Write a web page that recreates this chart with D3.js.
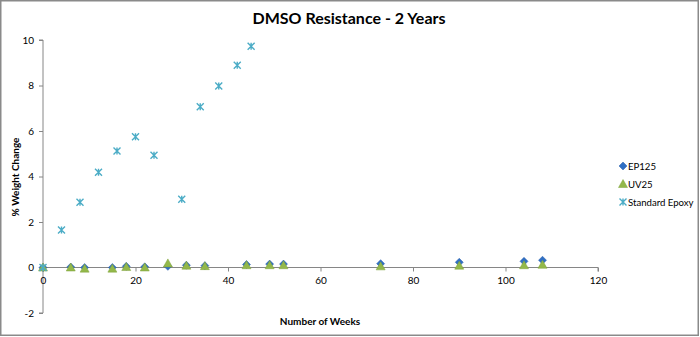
<!DOCTYPE html>
<html>
<head>
<meta charset="utf-8">
<script src="https://cdn.jsdelivr.net/npm/d3@7"></script>
<style>
  html, body { margin: 0; padding: 0; background: #fff; }
  svg { display: block; font-family: Lato, "Open Sans", sans-serif; }
</style>
</head>
<body>
<svg id="chart" width="700" height="337"></svg>
<script>
// ---- Data ----
const title = "DMSO Resistance - 2 Years";
const xLabel = "Number of Weeks";
const yLabel = "% Weight Change";
const xTicks = [0, 20, 40, 60, 80, 100, 120];
const yTicks = [-2, 0, 2, 4, 6, 8, 10];

const epWeeks = [0, 6, 9, 15, 18, 22, 27, 31, 35, 44, 49, 52, 73, 90, 104, 108];
const ep125 =   [0, 0.02, 0.0, 0.0, 0.05, 0.03, 0.05, 0.1, 0.08, 0.13, 0.15, 0.15, 0.17, 0.23, 0.27, 0.32];
const uv25 =    [0, 0.0, -0.05, -0.05, 0.02, 0.0, 0.18, 0.08, 0.06, 0.1, 0.1, 0.1, 0.05, 0.08, 0.1, 0.12];

const epoxyWeeks = [0, 4, 8, 12, 16, 20, 24, 30, 34, 38, 42, 45];
const epoxy =      [0, 1.65, 2.87, 4.19, 5.12, 5.75, 4.93, 3.0, 7.07, 7.98, 8.89, 9.73];

const seriesNames = ["EP125", "UV25", "Standard Epoxy"];
const seriesColors = ["#2f6fc4", "#93b84a", "#4bacc6"];

// ---- Layout ----
const svg = d3.select("#chart");
const x = d3.scaleLinear().domain([0, 120]).range([43, 598]);
const y = d3.scaleLinear().domain([-2, 10]).range([313, 40]);

// outer border
svg.append("rect").attr("x", 0.75).attr("y", 0.75).attr("width", 697.5).attr("height", 334.5)
  .attr("fill", "#fff").attr("stroke", "#8a8a8a").attr("stroke-width", 1.5);

// title
svg.append("text").attr("x", 349).attr("y", 24).attr("text-anchor", "middle")
  .attr("font-size", 16).attr("font-weight", "bold").attr("fill", "#000").text(title);

// y axis
const yAxis = d3.axisLeft(y).tickValues(yTicks).tickSize(4).tickPadding(5).tickFormat(d => String(d));
const gy = svg.append("g").attr("transform", `translate(${x(0)},0)`).call(yAxis);
gy.select(".domain").attr("stroke", "#868686").attr("d", `M-4,${y(-2)}H0V${y(10)}H-4`);
gy.selectAll(".tick line").attr("stroke", "#868686");
gy.selectAll(".tick text").attr("font-size", 10).attr("fill", "#000").attr("font-family", "Lato, sans-serif");

// x axis at y=0
const xAxis = d3.axisBottom(x).tickValues(xTicks).tickSize(4).tickPadding(5).tickFormat(d => String(d));
const gx = svg.append("g").attr("transform", `translate(0,${y(0)})`).call(xAxis);
gx.select(".domain").attr("stroke", "#868686").attr("d", `M${x(0)},0H${x(120)}V4`);
gx.selectAll(".tick line").attr("stroke", "#868686");
gx.selectAll(".tick text").attr("font-size", 10).attr("fill", "#000").attr("font-family", "Lato, sans-serif");

// axis labels
svg.append("text").attr("x", 320).attr("y", 325).attr("text-anchor", "middle")
  .attr("font-size", 10).attr("font-weight", "bold").text(xLabel);
svg.append("text").attr("transform", "translate(19,177) rotate(-90)").attr("text-anchor", "middle")
  .attr("font-size", 10).attr("font-weight", "bold").text(yLabel);

// markers
function diamond(g, cx, cy, c) {
  g.append("path").attr("d", `M${cx},${cy-4}L${cx+4},${cy}L${cx},${cy+4}L${cx-4},${cy}Z`)
    .attr("fill", c).attr("stroke", "#2a5ea8").attr("stroke-width", 0.5);
}
function triangle(g, cx, cy, c) {
  g.append("path").attr("d", `M${cx},${cy-4.5}L${cx+4.5},${cy+3.5}L${cx-4.5},${cy+3.5}Z`)
    .attr("fill", c).attr("stroke", "#7fa33b").attr("stroke-width", 0.5);
}
function star(g, cx, cy, c) {
  const r = 3.5;
  g.append("path").attr("d", `M${cx-r},${cy-r}L${cx+r},${cy+r}M${cx-r},${cy+r}L${cx+r},${cy-r}M${cx},${cy-r}L${cx},${cy+r}`)
    .attr("stroke", c).attr("stroke-width", 1.4).attr("fill", "none");
}

const gm = svg.append("g");
epWeeks.forEach((w, i) => diamond(gm, x(w), y(ep125[i]), seriesColors[0]));
epWeeks.forEach((w, i) => triangle(gm, x(w), y(uv25[i]), seriesColors[1]));
epoxyWeeks.forEach((w, i) => star(gm, x(w), y(epoxy[i]), seriesColors[2]));

// legend
const legY = [166, 184, 202];
const markerFns = [diamond, triangle, star];
const gl = svg.append("g");
seriesNames.forEach((n, i) => {
  markerFns[i](gl, 623, legY[i], seriesColors[i]);
  gl.append("text").attr("x", 628).attr("y", legY[i] + 3.5).attr("font-size", 9.6).attr("fill", "#000").text(n);
});
</script>
</body>
</html>
